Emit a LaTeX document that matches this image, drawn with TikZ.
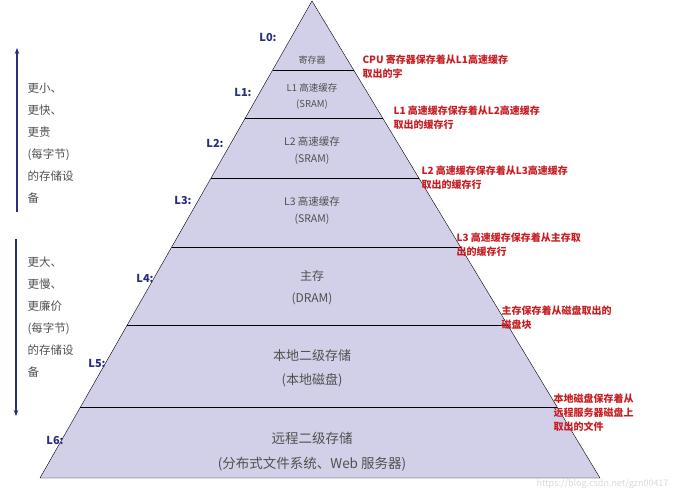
\documentclass[tikz,border=0pt]{standalone}
\usepackage{fontspec}
\setmainfont{Noto Sans CJK SC}
\usetikzlibrary{arrows.meta,calc}
\definecolor{tierfill}{RGB}{210,208,232}
\definecolor{lvlblue}{RGB}{40,45,125}
\definecolor{notered}{RGB}{200,30,35}
\definecolor{tiergray}{RGB}{80,80,80}
\begin{document}
\begin{tikzpicture}[x=1pt,y=-1pt,
    level/.style={text=lvlblue,font=\bfseries\fontsize{11}{11}\selectfont},
    note/.style={text=notered,anchor=north west,align=left,font=\bfseries\fontsize{10}{14}\selectfont},
    tier/.style={text=tiergray,align=center},
    side/.style={text=tiergray,anchor=north west,align=left,font=\fontsize{11.5}{22}\selectfont}]
    \useasboundingbox (0,0) rectangle (687,500);
    % pyramid
    \coordinate (apex) at (312,1);
    \coordinate (bl) at (40,478);
    \coordinate (br) at (600,478);
    \fill[tierfill] (apex) -- (bl) -- (br) -- cycle;
    \foreach \y in {70,118,178,247,325,407}
        \draw ($(apex)!{(\y-1)/477}!(bl)$) -- ($(apex)!{(\y-1)/477}!(br)$);
    \draw (apex) -- (bl) -- (br) -- cycle;
    % tiers
    \node[tier,font=\fontsize{9}{11}\selectfont] (t0) at (312,60) {寄存器};
    \node[tier,font=\fontsize{9.5}{16}\selectfont] (t1) at (312,96) {L1 高速缓存\\(SRAM)};
    \node[tier,font=\fontsize{10.5}{17}\selectfont] (t2) at (312,151) {L2 高速缓存\\(SRAM)};
    \node[tier,font=\fontsize{10.5}{17}\selectfont] (t3) at (312,211) {L3 高速缓存\\(SRAM)};
    \node[tier,font=\fontsize{12}{22}\selectfont] (t4) at (312,288) {主存\\(DRAM)};
    \node[tier,font=\fontsize{13}{24}\selectfont] (t5) at (312,368) {本地二级存储\\(本地磁盘)};
    \node[tier,font=\fontsize{13.5}{25}\selectfont] (t6) at (312,452) {远程二级存储\\(分布式文件系统、Web 服务器)};
    % levels
    \node[level] (l0) at (268,37) {L0:};
    \node[level] (l1) at (243,92) {L1:};
    \node[level] (l2) at (215,143) {L2:};
    \node[level] (l3) at (183,200) {L3:};
    \node[level] (l4) at (145,278) {L4:};
    \node[level] (l5) at (97,363) {L5:};
    \node[level] (l6) at (55,440) {L6:};
    % notes
    \node[note] (n0) at (359,51) {CPU 寄存器保存着从L1高速缓存\\取出的字};
    \node[note] (n1) at (390,102) {L1 高速缓存保存着从L2高速缓存\\取出的缓存行};
    \node[note] (n2) at (418,162) {L2 高速缓存保存着从L3高速缓存\\取出的缓存行};
    \node[note] (n3) at (453,229) {L3 高速缓存保存着从主存取\\出的缓存行};
    \node[note] (n4) at (498,302) {主存保存着从磁盘取出的\\磁盘块};
    \node[note] (n5) at (550,390) {本地磁盘保存着从\\远程服务器磁盘上\\取出的文件};
    % side arrows
    \coordinate (u0) at (17,212);
    \coordinate (u1) at (17,48);
    \coordinate (d0) at (16,239);
    \coordinate (d1) at (16,416);
    \draw[lvlblue,line width=1.3pt,-{Stealth[length=6pt]}] (u0) -- (u1);
    \draw[lvlblue,line width=1.3pt,-{Stealth[length=6pt]}] (d0) -- (d1);
    \node[side] (s0) at (24,79) {更小、\\更快、\\更贵\\(每字节)\\的存储设\\备};
    \node[side] (s1) at (24,253) {更大、\\更慢、\\更廉价\\(每字节)\\的存储设\\备};
    % watermark
    \node[text=black!15,font=\fontsize{9}{9}\selectfont,anchor=east] (wm) at (672,484) {https://blog.csdn.net/gzn00417};
\end{tikzpicture}
\end{document}
